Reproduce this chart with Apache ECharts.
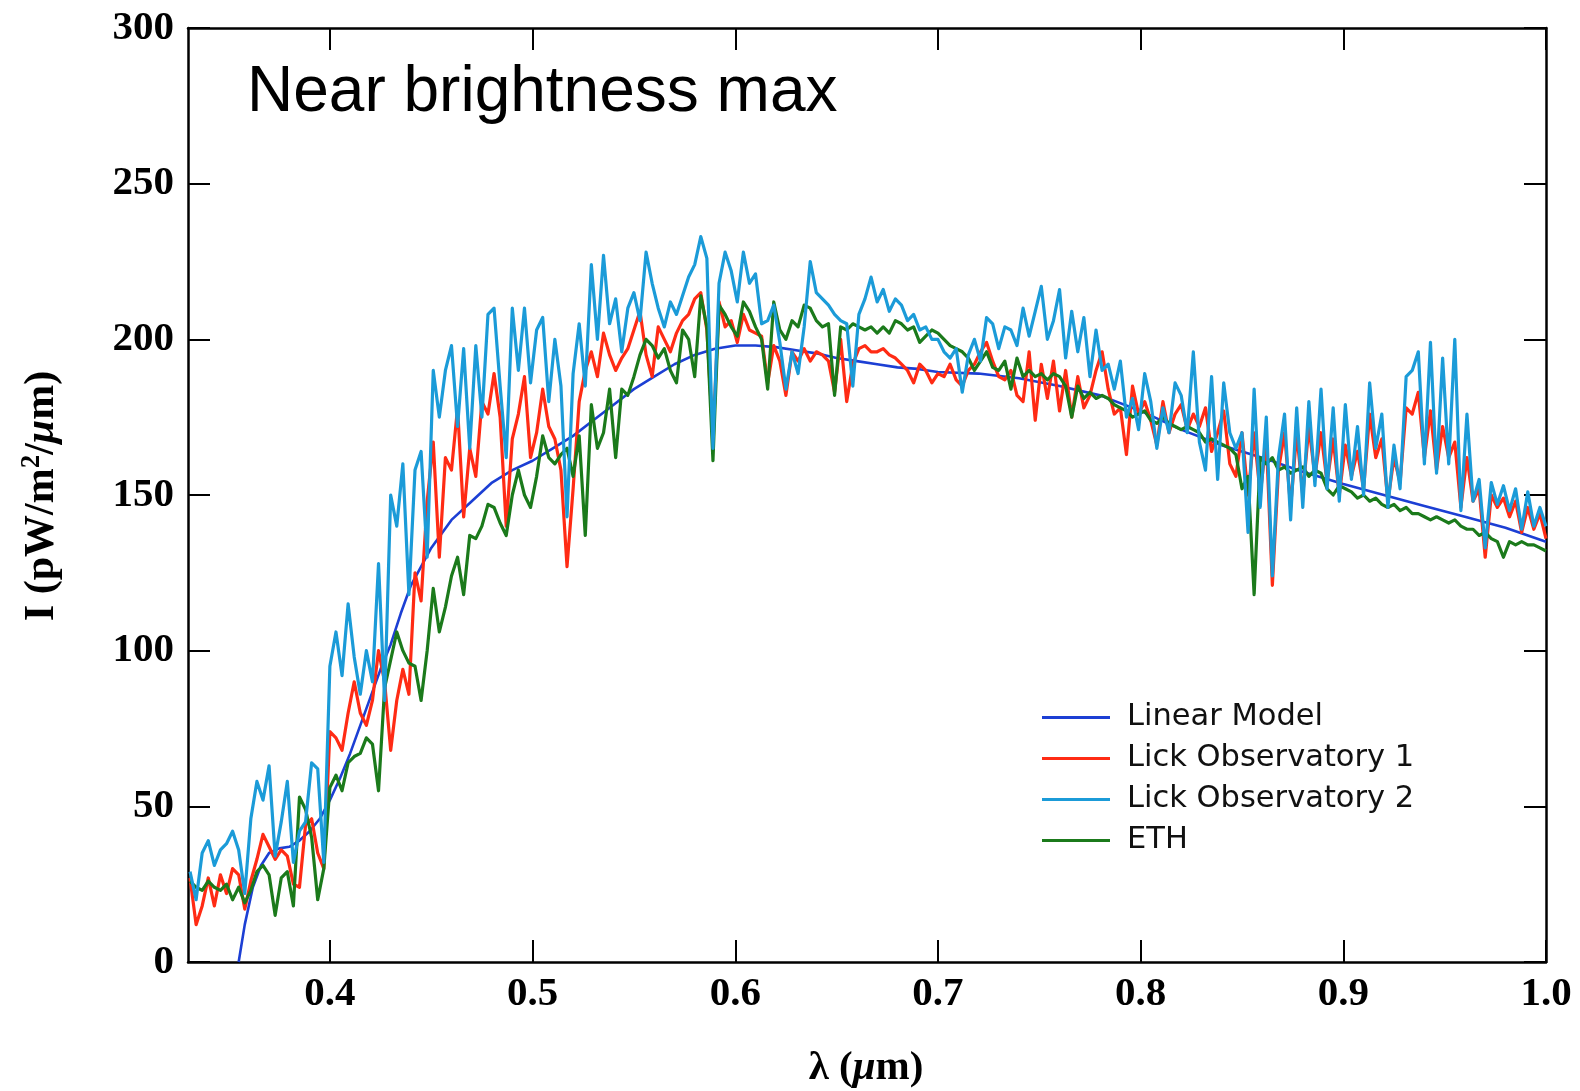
<!DOCTYPE html>
<html>
<head>
<meta charset="utf-8">
<script src="https://cdn.jsdelivr.net/npm/echarts@6/dist/echarts.min.js"></script>
<style>
  html, body { margin: 0; padding: 0; background: #ffffff; }
  #chart { width: 1580px; height: 1091px; }
</style>
</head>
<body>
<div id="chart"></div>
<script>
// Spectral intensity I (pW/m^2/um) sampled on a regular wavelength grid (um)
const LAMBDA_START = 0.331;
const LAMBDA_STEP = 0.003;

const lick1 = [
  27,12,18,27,18,28,22,30,28,17,
  26,33,41,37,33,36,34,25,24,44,
  46,35,30,74,72,68,80,90,80,76,
  84,100,90,68,84,94,86,125,116,148,
  167,130,162,158,178,143,165,156,180,176,
  189,175,140,168,176,188,162,170,184,172,
  168,158,127,152,180,190,196,188,202,195,
  190,194,197,203,209,195,188,204,200,196,
  202,206,208,213,215,203,168,212,204,206,
  199,208,203,202,201,186,198,193,182,196,
  193,197,193,196,195,193,183,200,180,192,
  197,198,196,196,197,195,194,192,190,186,
  192,190,186,189,188,192,187,185,190,192,
  196,199,193,188,187,190,182,180,196,174,
  192,181,193,177,190,175,188,178,182,190,
  196,184,176,178,163,185,176,180,174,166,
  180,170,176,179,171,176,172,178,164,170,
  177,160,156,170,150,170,150,168,121,158,
  170,146,170,150,172,156,170,154,168,150,
  166,156,164,152,176,162,168,148,162,154,
  178,176,183,162,177,158,172,162,167,146,
  162,148,152,130,150,146,149,143,148,138,
  146,139,144,136
];

const lick2 = [
  29,20,35,39,31,36,38,42,36,22,
  46,58,52,63,34,45,58,32,42,45,
  64,62,32,95,106,92,115,98,86,100,
  90,128,84,150,140,160,118,158,164,130,
  190,175,190,198,172,197,165,198,175,208,
  210,185,162,210,190,210,186,203,207,180,
  200,185,143,189,205,185,224,200,227,205,
  213,196,210,215,206,228,218,210,204,212,
  208,214,220,224,233,226,165,218,228,222,
  212,228,218,221,205,206,211,199,184,196,
  189,204,225,215,213,211,208,206,205,185,
  208,213,220,212,216,209,213,211,206,208,
  203,204,200,200,196,194,197,183,195,200,
  193,207,205,197,204,203,198,210,201,209,
  217,200,206,216,194,209,196,207,188,203,
  190,192,184,193,175,181,171,189,180,165,
  178,170,186,182,170,196,167,158,188,155,
  186,170,165,170,138,184,146,175,124,162,
  176,142,178,146,180,153,184,152,178,148,
  179,155,172,150,186,165,176,146,166,152,
  188,190,196,160,199,157,194,160,200,145,
  176,148,155,133,154,147,153,145,152,139,
  151,140,146,140
];

const eth = [
  26,24,23,26,24,23,25,20,24,19,
  23,29,31,28,15,27,29,18,53,49,
  40,20,30,56,60,55,64,66,67,72,
  70,55,88,97,106,100,96,95,84,100,
  120,106,114,124,130,118,137,136,140,147,
  146,141,137,150,158,150,146,156,169,162,
  160,163,165,156,169,137,179,165,170,184,
  162,184,182,188,195,200,198,194,197,190,
  186,203,200,188,214,204,161,211,208,204,
  201,212,209,204,200,184,212,203,200,206,
  204,211,210,206,204,205,182,204,203,205,
  204,203,204,202,204,202,206,205,203,204,
  199,201,203,202,200,198,197,196,194,190,
  193,196,191,190,193,184,194,188,190,188,
  189,187,189,188,185,175,185,181,183,181,
  182,181,179,178,177,175,176,177,174,173,
  175,173,172,171,172,171,170,167,168,167,
  166,165,163,152,156,118,162,160,162,158,
  159,157,158,159,156,158,157,152,150,153,
  152,151,149,150,148,149,147,146,147,145,
  146,144,144,143,142,143,142,141,142,140,
  139,139,137,138,136,135,130,135,134,135,
  134,134,133,132
];

// Linear model curve
const modelLambda = [
  0.355,0.358,0.362,0.366,0.370,0.375,0.380,0.385,0.390,0.395,
  0.400,0.405,0.410,0.415,0.420,0.425,0.430,0.435,0.440,0.445,
  0.450,0.460,0.470,0.480,0.490,0.500,0.510,0.520,0.530,0.540,
  0.550,0.560,0.570,0.580,0.590,0.600,0.610,0.620,0.630,0.640,
  0.650,0.660,0.670,0.680,0.690,0.700,0.720,0.740,0.760,0.780,
  0.800,0.820,0.840,0.860,0.880,0.900,0.920,0.940,0.960,0.980,
  1.000
];
const modelValues = [
  0,12,24,31,35,36.5,37,39,42,46,
  52,59,67,76,85,94,102,112,121,127,
  133,142,148,154,158,161,165,169,174,179,
  184,188,192,195,197,198,198,197.5,196.5,195.5,
  194,193,192,191,190.5,189.5,189,187.5,185,182,
  177,171,166,162,157.5,153.5,150,146.5,143,139.5,
  135
];

const xTickValues = [0.4, 0.5, 0.6, 0.7, 0.8, 0.9, 1.0];
const xTickLabels = ['0.4', '0.5', '0.6', '0.7', '0.8', '0.9', '1.0'];
const X_MIN = 0.33, X_MAX = 1.0;
const Y_MIN = 0, Y_MAX = 300, Y_STEP = 50;

const seriesNames = ['Linear Model', 'Lick Observatory 1', 'Lick Observatory 2', 'ETH'];
const seriesColors = ['#1c3fd4', '#ff2b14', '#1b9bd8', '#1b7a1b'];

const wavelengths = lick1.map((_, i) => +(LAMBDA_START + i * LAMBDA_STEP).toFixed(3));
const pairs = (xs, ys) => ys.map((v, i) => [xs[i], v]);

const SERIF = '"Liberation Serif", "Times New Roman", serif';
const SANS = '"Liberation Sans", Arial, sans-serif';

const tickStyle = { color: '#000', width: 2 };
const lineAxis = { show: true, onZero: false, lineStyle: { color: '#000', width: 2.5 } };
const labelFont = { fontFamily: SERIF, fontWeight: 'bold', fontSize: 41, color: '#000' };

function spectrum(idx, values, z, width) {
  return {
    name: seriesNames[idx],
    type: 'line',
    data: pairs(wavelengths, values),
    showSymbol: false,
    symbol: 'none',
    z: z,
    itemStyle: { color: seriesColors[idx] },
    lineStyle: { color: seriesColors[idx], width: width, join: 'round' }
  };
}

const chart = echarts.init(document.getElementById('chart'), null, { renderer: 'canvas' });
chart.setOption({
  backgroundColor: '#ffffff',
  animation: false,
  grid: { left: 188, right: 34, top: 28, bottom: 129 },
  xAxis: [
    {
      type: 'value', min: X_MIN, max: X_MAX, position: 'bottom',
      axisLine: lineAxis,
      axisTick: { show: true, inside: true, length: 22, customValues: xTickValues, lineStyle: tickStyle },
      axisLabel: Object.assign({ show: true, margin: 12, customValues: xTickValues,
        formatter: v => xTickLabels[xTickValues.findIndex(t => Math.abs(t - v) < 1e-6)] }, labelFont),
      splitLine: { show: false }
    },
    {
      type: 'value', min: X_MIN, max: X_MAX, position: 'top',
      axisLine: lineAxis,
      axisTick: { show: true, inside: true, length: 22, customValues: xTickValues, lineStyle: tickStyle },
      axisLabel: { show: false },
      splitLine: { show: false }
    }
  ],
  yAxis: [
    {
      type: 'value', min: Y_MIN, max: Y_MAX, interval: Y_STEP, position: 'left',
      axisLine: lineAxis,
      axisTick: { show: true, inside: true, length: 22, lineStyle: tickStyle },
      axisLabel: Object.assign({ show: true, margin: 14, showMinLabel: true, showMaxLabel: true }, labelFont),
      splitLine: { show: false }
    },
    {
      type: 'value', min: Y_MIN, max: Y_MAX, interval: Y_STEP, position: 'right',
      axisLine: lineAxis,
      axisTick: { show: true, inside: true, length: 22, lineStyle: tickStyle },
      axisLabel: { show: false },
      splitLine: { show: false }
    }
  ],
  legend: {
    data: seriesNames,
    orient: 'vertical',
    left: 1037,
    top: 697,
    icon: 'rect',
    itemWidth: 68,
    itemHeight: 3,
    itemGap: 10,
    selectedMode: false,
    textStyle: {
      fontFamily: '"DejaVu Sans", sans-serif',
      fontSize: 30.5,
      color: '#111',
      lineHeight: 30,
      padding: [0, 0, 0, 12]
    }
  },
  graphic: [
    {
      type: 'text', x: 247, y: 93, z: 10,
      style: { text: 'Near brightness max', font: '64px ' + SANS, fill: '#000',
               align: 'left', verticalAlign: 'middle' }
    },
    {
      type: 'text', x: 866, y: 1068, z: 10,
      style: {
        text: '{a|λ (}{i|μ}{a|m)}',
        align: 'center', verticalAlign: 'middle',
        rich: {
          a: { fontFamily: SERIF, fontWeight: 'bold', fontSize: 41, fill: '#000' },
          i: { fontFamily: SERIF, fontWeight: 'bold', fontStyle: 'italic', fontSize: 41, fill: '#000' }
        }
      }
    },
    {
      type: 'text', x: 42, y: 496, rotation: Math.PI / 2, z: 10,
      style: {
        text: '{a|I (pW/m}{s|2}{a|/}{i|μ}{a|m)}',
        align: 'center', verticalAlign: 'middle',
        rich: {
          a: { fontFamily: SERIF, fontWeight: 'bold', fontSize: 42, fill: '#000', lineHeight: 46 },
          s: { fontFamily: SERIF, fontWeight: 'bold', fontSize: 27, fill: '#000', verticalAlign: 'top', lineHeight: 27 },
          i: { fontFamily: SERIF, fontWeight: 'bold', fontStyle: 'italic', fontSize: 42, fill: '#000', lineHeight: 46 }
        }
      }
    }
  ],
  series: [
    {
      name: seriesNames[0],
      type: 'line',
      data: pairs(modelLambda, modelValues),
      showSymbol: false,
      symbol: 'none',
      z: 2,
      itemStyle: { color: seriesColors[0] },
      lineStyle: { color: seriesColors[0], width: 2.6 }
    },
    spectrum(1, lick1, 3, 3.2),
    spectrum(3, eth, 4, 3.2),
    spectrum(2, lick2, 5, 3.2)
  ]
});
</script>
</body>
</html>
